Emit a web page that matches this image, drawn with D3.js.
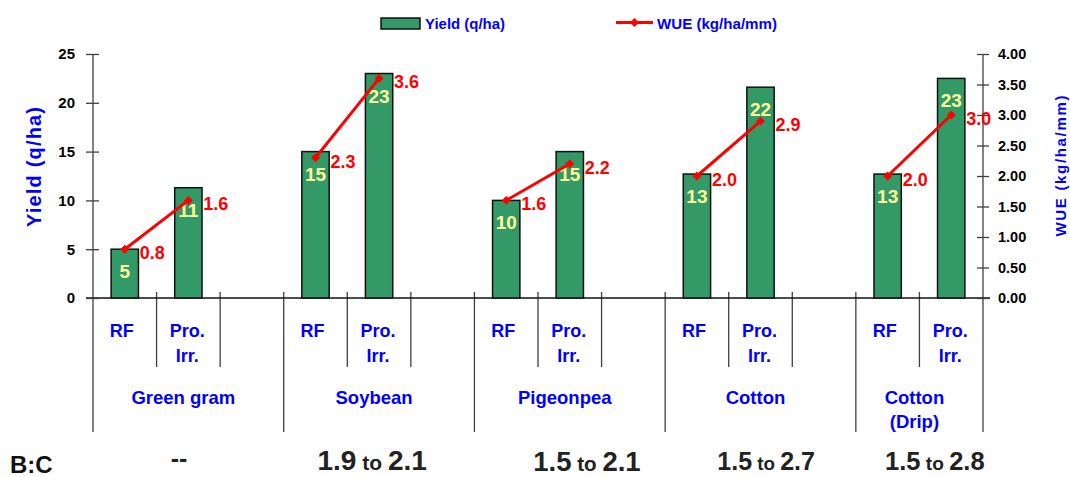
<!DOCTYPE html>
<html><head><meta charset="utf-8">
<script src="https://cdn.jsdelivr.net/npm/d3@7"></script>
<style>
body{margin:0;background:#fff}
svg{display:block}
text{font-family:"Liberation Sans",Arial,sans-serif;font-weight:bold}
</style>
</head><body>
<svg id="c" width="1070" height="477"></svg>
<script>
// ---- data ----
const crops = ["Green gram", "Soybean", "Pigeonpea", "Cotton", "Cotton (Drip)"];
const treatments = ["RF", "Pro. Irr."];
const yieldRF = [5, 15, 10, 12.7, 12.7];
const yieldPro = [11.3, 23, 15, 21.6, 22.5];
const wueRF = [0.8, 2.3, 1.6, 2.0, 2.0];
const wuePro = [1.6, 3.6, 2.2, 2.9, 3.0];
const bcRatio = ["--", "1.9 to 2.1", "1.5 to 2.1", "1.5 to 2.7", "1.5 to 2.8"];
const yieldTicks = [0, 5, 10, 15, 20, 25];
const wueTicks = [0, 0.5, 1, 1.5, 2, 2.5, 3, 3.5, 4];
const legendLabels = ["Yield (q/ha)", "WUE (kg/ha/mm)"];
const axisTitles = ["Yield (q/ha)", "WUE (kg/ha/mm)"];
const bcLabel = "B:C";

// ---- styles ----
const BLUE = "#0000ff", RED = "#ff0000", GREEN = "#339966", LAB = "#ffff99", LINE = "#404040";
const bcStyle = [
  {size: 25, base: 467}, {size: 28, base: 470}, {size: 27.5, base: 470.5},
  {size: 25, base: 469.5}, {size: 25.5, base: 470}
];

const svg = d3.select("#c");

// slots: each crop has RF, Pro, and a gap (except the last)
const slots = [];
crops.forEach((c, i) => {
  treatments.forEach((t, j) => slots.push({key: c + "|" + t, crop: i, t: j}));
  if (i < crops.length - 1) slots.push({key: c + "|gap", crop: i, t: -1});
});
const x = d3.scaleBand().domain(slots.map(s => s.key)).range([93, 983]);
const bw = x.bandwidth();
const y = d3.scaleLinear().domain([0, 25]).range([298, 54]);
const w = d3.scaleLinear().domain([0, 4]).range([298, 54]);
const cx = (i, t) => x(crops[i] + "|" + treatments[t]) + bw / 2;

const pts = crops.flatMap((c, i) => [
  {i, t: 0, v: yieldRF[i], u: wueRF[i]},
  {i, t: 1, v: yieldPro[i], u: wuePro[i]}
]);

// separators
const fullX = [], shortX = [];
slots.forEach((s, k) => {
  const xx = x(s.key);
  if (s.t === 0) fullX.push(xx); else shortX.push(xx);
});
fullX.push(983);
svg.append("g").selectAll("line.full").data(fullX).join("line")
  .attr("x1", d => d).attr("x2", d => d).attr("y1", d => (d === 93 || d === 983) ? 54 : 292).attr("y2", 432)
  .attr("stroke", LINE).attr("stroke-width", 1.3);
svg.append("g").selectAll("line.short").data(shortX).join("line")
  .attr("x1", d => d).attr("x2", d => d).attr("y1", 292).attr("y2", 367)
  .attr("stroke", LINE).attr("stroke-width", 1.3);

// baseline
svg.append("line").attr("x1", 86).attr("x2", 990).attr("y1", y(0)).attr("y2", y(0))
  .attr("stroke", "#111").attr("stroke-width", 1.3);

// axes
const gL = svg.append("g").attr("transform", "translate(93,0)")
  .call(d3.axisLeft(y).tickValues(yieldTicks).tickSize(7).tickPadding(11));
gL.attr("font-family", null).attr("font-size", null);
gL.select(".domain").remove();
gL.selectAll(".tick line").attr("x1", 6).attr("stroke", LINE).attr("stroke-width", 1.3);
gL.selectAll(".tick text").attr("font-size", 15).attr("fill", "#000");

const gR = svg.append("g").attr("transform", "translate(983,0)")
  .call(d3.axisRight(w).tickValues(wueTicks).tickSize(6).tickPadding(9).tickFormat(d3.format(".2f")));
gR.attr("font-family", null).attr("font-size", null);
gR.select(".domain").remove();
gR.selectAll(".tick line").attr("x1", -6).attr("stroke", LINE).attr("stroke-width", 1.3);
gR.selectAll(".tick text").attr("font-size", 14.5).attr("fill", "#000");

// bars
const barW = bw * 0.43;
svg.append("g").selectAll("rect").data(pts).join("rect")
  .attr("x", d => cx(d.i, d.t) - barW / 2).attr("width", barW)
  .attr("y", d => y(d.v)).attr("height", d => y(0) - y(d.v))
  .attr("fill", GREEN).attr("stroke", "#111").attr("stroke-width", 1.5);

// bar labels
svg.append("g").selectAll("text").data(pts).join("text")
  .attr("x", d => cx(d.i, d.t)).attr("y", d => y(d.v) + 29)
  .attr("text-anchor", "middle").attr("font-size", 19).attr("fill", LAB)
  .text(d => Math.round(d.v));

// WUE lines
svg.append("g").selectAll("line").data(crops.map((c, i) => i)).join("line")
  .attr("x1", i => cx(i, 0)).attr("y1", i => w(wueRF[i]))
  .attr("x2", i => cx(i, 1)).attr("y2", i => w(wuePro[i]))
  .attr("stroke", RED).attr("stroke-width", 3);
const diamond = d3.symbol(d3.symbolSquare).size(40);
svg.append("g").selectAll("path").data(pts).join("path")
  .attr("d", diamond)
  .attr("transform", d => `translate(${cx(d.i, d.t)},${w(d.u)}) rotate(45)`)
  .attr("fill", RED);
svg.append("g").selectAll("text").data(pts).join("text")
  .attr("x", d => cx(d.i, d.t) + 15).attr("y", d => w(d.u) + 10)
  .attr("font-size", 18).attr("fill", RED)
  .text(d => d3.format(".1f")(d.u));

// treatment labels
const tl = svg.append("g").selectAll("text").data(pts).join("text")
  .attr("text-anchor", "middle").attr("font-size", 18).attr("fill", BLUE);
tl.each(function(d) {
  const parts = treatments[d.t].split(" ");
  const xx = cx(d.i, d.t) + (parts.length === 1 ? -3 : -1);
  d3.select(this).selectAll("tspan").data(parts).join("tspan")
    .attr("x", xx).attr("y", (p, k) => 336.5 + k * 25).text(p => p);
});

// crop labels
svg.append("g").selectAll("text").data(crops.map((c, i) => i)).join("text")
  .attr("text-anchor", "middle").attr("font-size", 18.5).attr("fill", BLUE)
  .each(function(i) {
    const start = x(crops[i] + "|" + treatments[0]);
    const end = i < crops.length - 1 ? x(crops[i] + "|gap") + bw : x(crops[i] + "|" + treatments[1]) + bw;
    const mid = (start + end) / 2 - 5;
    const parts = crops[i].replace(" (", "\n(").split("\n");
    d3.select(this).selectAll("tspan").data(parts).join("tspan")
      .attr("x", mid).attr("y", (p, k) => 403.5 + k * 24.5).text(p => p);
  });

// B:C row
svg.append("text").attr("x", 10).attr("y", 473).attr("font-size", 24).attr("fill", "#111").text(bcLabel);
const bcCenters = crops.map((c, i) => {
  const start = x(crops[i] + "|" + treatments[0]);
  return start + [86, 88.5, 112.5, 101, 79][i];
});
bcRatio.forEach((s, i) => {
  const st = bcStyle[i];
  const t = svg.append("text").attr("x", bcCenters[i]).attr("y", st.base)
    .attr("text-anchor", "middle").attr("font-size", st.size).attr("fill", "#222");
  const parts = s.split(" to ");
  if (parts.length === 2) {
    t.append("tspan").text(parts[0]);
    t.append("tspan").attr("font-size", st.size * 0.75).text(" to ");
    t.append("tspan").text(parts[1]);
  } else t.text(s);
});

// axis titles
svg.append("text").attr("transform", "translate(40.5,167) rotate(-90)")
  .attr("text-anchor", "middle").attr("font-size", 20).attr("fill", BLUE)
  .attr("textLength", 120).attr("lengthAdjust", "spacing").text(axisTitles[0]);
svg.append("text").attr("transform", "translate(1066,166) rotate(-90)")
  .attr("text-anchor", "middle").attr("font-size", 15).attr("fill", BLUE)
  .attr("textLength", 141).attr("lengthAdjust", "spacing").text(axisTitles[1]);

// legend
svg.append("rect").attr("x", 381).attr("y", 18).attr("width", 39).attr("height", 11)
  .attr("fill", GREEN).attr("stroke", "#111").attr("stroke-width", 1.5);
svg.append("text").attr("x", 425).attr("y", 28.5).attr("font-size", 15).attr("fill", BLUE)
  .attr("textLength", 80).attr("lengthAdjust", "spacingAndGlyphs").text(legendLabels[0]);
svg.append("line").attr("x1", 616).attr("x2", 653).attr("y1", 22.5).attr("y2", 22.5)
  .attr("stroke", RED).attr("stroke-width", 3);
svg.append("path").attr("d", diamond).attr("transform", "translate(634.5,22.5) rotate(45)").attr("fill", RED);
svg.append("text").attr("x", 657).attr("y", 28.5).attr("font-size", 15).attr("fill", BLUE)
  .attr("textLength", 120).attr("lengthAdjust", "spacingAndGlyphs").text(legendLabels[1]);
</script>
</body></html>
